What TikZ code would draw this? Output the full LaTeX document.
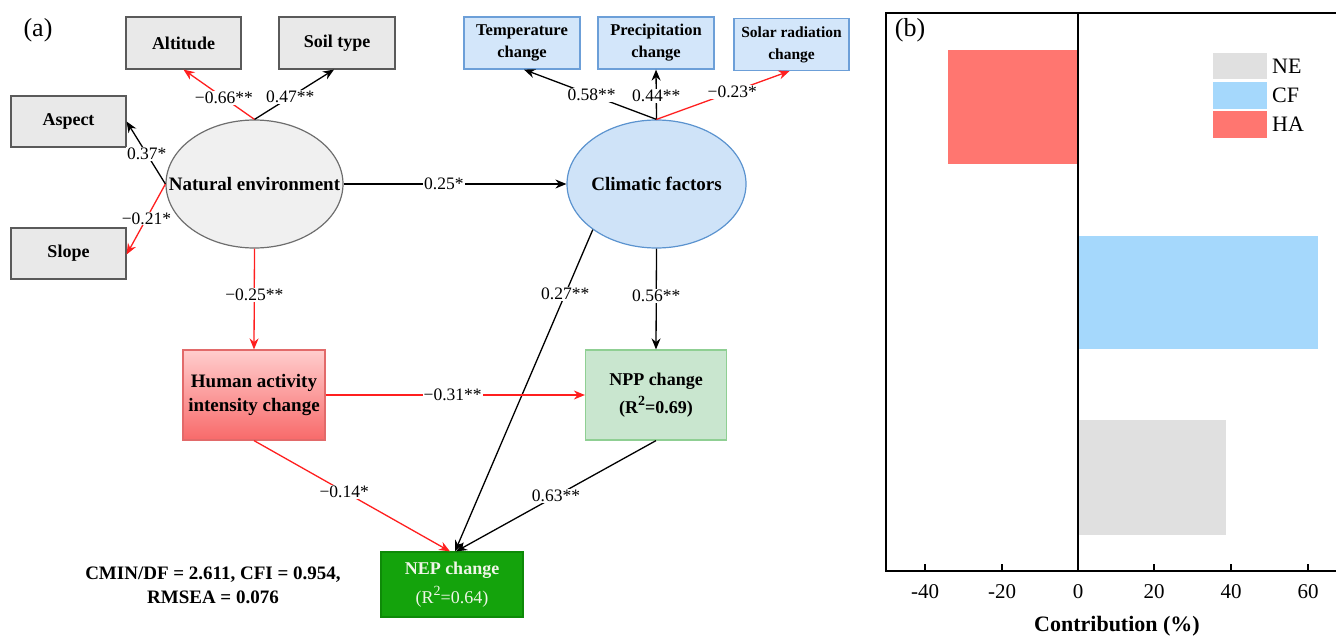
\documentclass[tikz,border=0pt]{standalone}
\usepackage{fontspec}
\setmainfont{Liberation Serif}
\usetikzlibrary{arrows.meta,shapes.geometric}
\definecolor{grayfill}{HTML}{E9E9E9}
\definecolor{grayline}{HTML}{5A5A5A}
\definecolor{nefill}{HTML}{F0F0F0}
\definecolor{neline}{HTML}{6E6E6E}
\definecolor{bluefill}{HTML}{D3E6FA}
\definecolor{blueline}{HTML}{6C9FD8}
\definecolor{cffill}{HTML}{CFE3F8}
\definecolor{cfline}{HTML}{5B93CF}
\definecolor{hatop}{HTML}{FFCDCD}
\definecolor{habot}{HTML}{F86A6A}
\definecolor{haline}{HTML}{E26A6A}
\definecolor{nppfill}{HTML}{C9E6CF}
\definecolor{nppline}{HTML}{8FCF93}
\definecolor{nepfill}{HTML}{14A30C}
\definecolor{nepline}{HTML}{0E8A08}
\definecolor{neptext}{HTML}{F0F5E8}
\definecolor{redarrow}{HTML}{FF1F1F}
\definecolor{habar}{HTML}{FF7670}
\definecolor{cfbar}{HTML}{A5D8FC}
\definecolor{nebar}{HTML}{E0E0E0}
\newcommand\bigsup[1]{\raisebox{0.42em}{\fontsize{14}{14}\selectfont #1}}
\tikzset{
  graybox/.style={draw=grayline, fill=grayfill, line width=1.2pt, inner sep=0pt,
    font=\fontsize{18}{22}\selectfont\bfseries, align=center},
  bluebox/.style={draw=blueline, fill=bluefill, line width=1.2pt, inner sep=0pt,
    font=\fontsize{16.5}{22}\selectfont\bfseries, align=center},
  lat/.style={ellipse, line width=1.2pt, inner sep=0pt,
    font=\fontsize{19}{24}\selectfont\bfseries},
  blk/.style={draw=black, line width=1.3pt, -{Stealth[length=11pt,width=9pt]}},
  red/.style={draw=redarrow, line width=1.3pt, -{Stealth[length=11pt,width=9pt]}},
  lab/.style={fill=white, inner sep=1pt, text=black, font=\fontsize{17.5}{20}\selectfont},
  ticklab/.style={font=\fontsize{21}{24}\selectfont},
}
\begin{document}
\begin{tikzpicture}[x=1pt,y=-1pt]
\useasboundingbox (0,0) rectangle (1336,637);

% ---------- panel (a) ----------
\node[font=\fontsize{26}{30}\selectfont] (pa) at (38,30) {(a)};

\node[graybox, minimum width=115pt, minimum height=52pt] (alt) at (183.5,43) {Altitude};
\node[graybox, minimum width=116pt, minimum height=52pt] (soil) at (337,43) {Soil type};
\node[graybox, minimum width=115pt, minimum height=51pt] (asp) at (68.5,121.5) {Aspect};
\node[graybox, minimum width=115pt, minimum height=51pt] (slope) at (68.5,253.5) {Slope};

\node[lat, draw=neline, fill=nefill, minimum width=177pt, minimum height=128pt] (ne) at (254.5,184) {\makebox[0pt]{Natural environment}};
\node[lat, draw=cfline, fill=cffill, minimum width=179pt, minimum height=128pt] (cf) at (656.5,184) {\makebox[0pt]{Climatic factors}};

\node[bluebox, minimum width=116pt, minimum height=52pt] (temp) at (522,43) {Temperature\\change};
\node[bluebox, minimum width=116pt, minimum height=52pt] (prec) at (656,43) {Precipitation\\change};
\node[bluebox, minimum width=115pt, minimum height=52pt, font=\fontsize{15.5}{22}\selectfont\bfseries] (solar) at (791.5,44.5) {Solar radiation\\change};

\node[draw=haline, top color=hatop, bottom color=habot, line width=1.2pt, inner sep=0pt,
  minimum width=142pt, minimum height=90pt, align=center,
  font=\fontsize{19}{24}\selectfont\bfseries] (ha) at (254,395) {Human activity\\intensity change};
\node[draw=nppline, fill=nppfill, line width=1.2pt, inner sep=0pt,
  minimum width=141pt, minimum height=90pt, align=center,
  font=\fontsize{18}{28}\selectfont\bfseries] (npp) at (656,395) {NPP change\\(R\bigsup{\bfseries 2}=0.69)};
\node[draw=nepline, fill=nepfill, line width=1.2pt, inner sep=0pt, text=neptext,
  minimum width=142pt, minimum height=65pt, align=center,
  font=\fontsize{18}{29}\selectfont] (nep) at (452,584.5) {\textbf{NEP change}\\(R\bigsup{2}=0.64)};

\node[align=center, font=\fontsize{19}{24}\selectfont\bfseries] (fit) at (213,585)
  {CMIN/DF = 2.611, CFI = 0.954,\\RMSEA = 0.076};

% connectors
\draw[red] (ne.north) -- node[lab, pos=0.43] {−0.66**} (alt.south);
\draw[blk] (ne.north) -- node[lab, pos=0.45] {0.47**} ([xshift=-3pt]soil.south);
\draw[blk] (ne.west) -- node[lab, pos=0.48] {0.37*} (asp.east);
\draw[red] (ne.west) -- node[lab, pos=0.49] {−0.21*} ([yshift=-1pt]slope.east);
\draw[blk] (ne.east) -- node[lab, pos=0.45] {0.25*} (cf.west);
\draw[red] (ne.south) -- node[lab, pos=0.46] {−0.25**} (ha.north);

\draw[blk] (cf.north) -- node[lab, pos=0.49] {0.58**} ([xshift=2pt]temp.south);
\draw[blk] (cf.north) -- node[lab, pos=0.47] {0.44**} (prec.south);
\draw[red] (cf.north) -- node[lab, pos=0.57] {−0.23*} ([xshift=-2pt]solar.south);
\draw[blk] (cf.south) -- node[lab, pos=0.47] {0.56**} (npp.north);
\draw[blk] (cf.south west) -- node[lab, pos=0.2] {0.27**} ([xshift=3pt]nep.north);

\draw[red] (ha.east) -- node[lab, pos=0.49] {−0.31**} (npp.west);
\draw[red] (ha.south) -- node[lab, pos=0.46] {−0.14*} ([xshift=-2pt]nep.north);
\draw[blk] (npp.south) -- node[lab, pos=0.5] {0.63**} ([xshift=4pt]nep.north);

% ---------- panel (b) ----------
\fill[habar] (948,49.6) rectangle (1078,163.7);
\fill[cfbar] (1078,235.6) rectangle (1318,349);
\fill[nebar] (1078,420) rectangle (1226,534.6);

\draw[line width=2pt] (1336,13) -- (886,13) -- (886,571) -- (1336,571);
\draw[line width=2pt] (1078,13) -- (1078,571);
\foreach \xx/\tl in {925/-40,1002/-20,1078/0,1154/20,1231/40,1308/60}{
  \draw[line width=2pt] (\xx,571) -- (\xx,564);
  \node[ticklab] (t\tl) at (\xx,592) {\tl};
}
\node[font=\fontsize{22}{26}\selectfont\bfseries] (xlab) at (1117,626) {Contribution (\%)};
\node[font=\fontsize{26}{30}\selectfont] (pb) at (910,30) {(b)};

\fill[nebar] (1213,53) rectangle (1267,79);
\fill[cfbar] (1213,82) rectangle (1267,109);
\fill[habar] (1213,110.5) rectangle (1267,138);
\node[anchor=west, inner sep=0pt, font=\fontsize{22}{26}\selectfont] (lne) at (1272,66) {NE};
\node[anchor=west, inner sep=0pt, font=\fontsize{22}{26}\selectfont] (lcf) at (1272,95.5) {CF};
\node[anchor=west, inner sep=0pt, font=\fontsize{22}{26}\selectfont] (lha) at (1272,124) {HA};
\end{tikzpicture}
\end{document}
